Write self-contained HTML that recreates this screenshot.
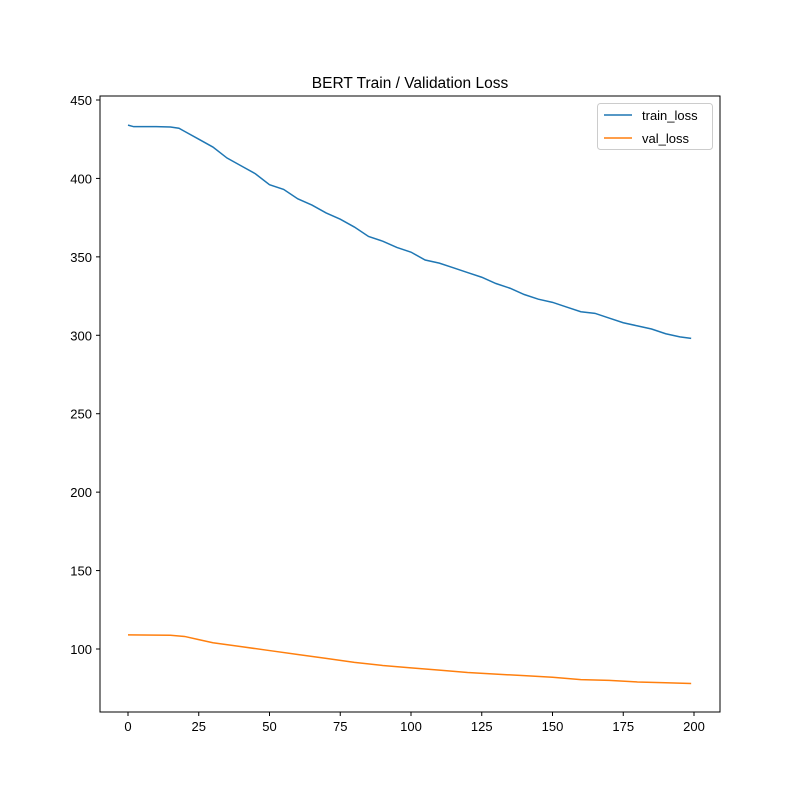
<!DOCTYPE html>
<html><head><meta charset="utf-8"><style>
body{margin:0;background:#fff}
svg text{font-family:"Liberation Sans","DejaVu Sans",sans-serif;font-size:13px;fill:#000}
</style></head><body>
<svg id="chart" width="800" height="800">
<rect width="800" height="800" fill="#fff"/>
<text x="410" y="88" text-anchor="middle" style="font-size:15.5px">BERT Train / Validation Loss</text>
<g id="marks"></g>
<g id="axes"></g>
<rect x="100" y="96" width="620" height="616" fill="none" stroke="#000" stroke-width="1"/>
<g>
<rect x="597.5" y="103.5" width="115" height="46" rx="3" fill="#fff" fill-opacity="0.8" stroke="#ccc"/>
<line x1="604" y1="115" x2="632" y2="115" stroke="#1f77b4" stroke-width="1.5"/>
<text x="642" y="120">train_loss</text>
<line x1="604" y1="138" x2="632" y2="138" stroke="#ff7f0e" stroke-width="1.5"/>
<text x="642" y="143">val_loss</text>
</g>
</svg>
<script>
const trainEpochs=[0,2,5,10,15,18,20,25,30,35,40,45,50,55,60,65,70,75,80,85,90,95,100,105,110,115,120,125,130,135,140,145,150,155,160,165,170,175,180,185,190,195,199];
const trainLoss=[434,433,433,433,432.8,432,430,425,420,413,408,403,396,393,387,383,378,374,369,363,360,356,353,348,346,343,340,337,333,330,326,323,321,318,315,314,311,308,306,304,301,299,298];
const valEpochs=[0,15,20,25,30,40,50,60,70,80,90,100,110,120,130,140,150,160,170,180,190,199];
const valLoss=[109,108.8,108,106,104,101.5,99,96.5,94,91.5,89.5,88,86.5,85,84,83,82,80.5,80,79,78.5,78];
const xTicks=[0,25,50,75,100,125,150,175,200];
const yTicks=[100,150,200,250,300,350,400,450];
const NS="http://www.w3.org/2000/svg";
const xs=v=>128+v*(694-128)/200;
const ys=v=>649-(v-100)*(649-100)/350;
const marks=document.getElementById('marks'),axes=document.getElementById('axes');
function line(xa,ya,color,name){
  const p=document.createElementNS(NS,'polyline');
  p.setAttribute('points',xa.map((x,i)=>xs(x)+','+ys(ya[i])).join(' '));
  p.setAttribute('fill','none');p.setAttribute('stroke',color);p.setAttribute('stroke-width','1.5');
  
  
  marks.appendChild(p);
}
line(trainEpochs,trainLoss,'#1f77b4','train-loss-line');
line(valEpochs,valLoss,'#ff7f0e','val-loss-line');
xTicks.forEach(t=>{
  const l=document.createElementNS(NS,'line');
  l.setAttribute('x1',xs(t));l.setAttribute('x2',xs(t));l.setAttribute('y1',712);l.setAttribute('y2',716);l.setAttribute('stroke','#000');
  
  
  axes.appendChild(l);
  const tx=document.createElementNS(NS,'text');
  tx.setAttribute('x',xs(t));tx.setAttribute('y',731);tx.setAttribute('text-anchor','middle');tx.textContent=t;
  
  
  axes.appendChild(tx);
});
yTicks.forEach(t=>{
  const l=document.createElementNS(NS,'line');
  l.setAttribute('x1',96);l.setAttribute('x2',100);l.setAttribute('y1',ys(t));l.setAttribute('y2',ys(t));l.setAttribute('stroke','#000');
  
  
  axes.appendChild(l);
  const tx=document.createElementNS(NS,'text');
  tx.setAttribute('x',92);tx.setAttribute('y',ys(t)+5);tx.setAttribute('text-anchor','end');tx.textContent=t;
  
  
  axes.appendChild(tx);
});
</script>
</body></html>
